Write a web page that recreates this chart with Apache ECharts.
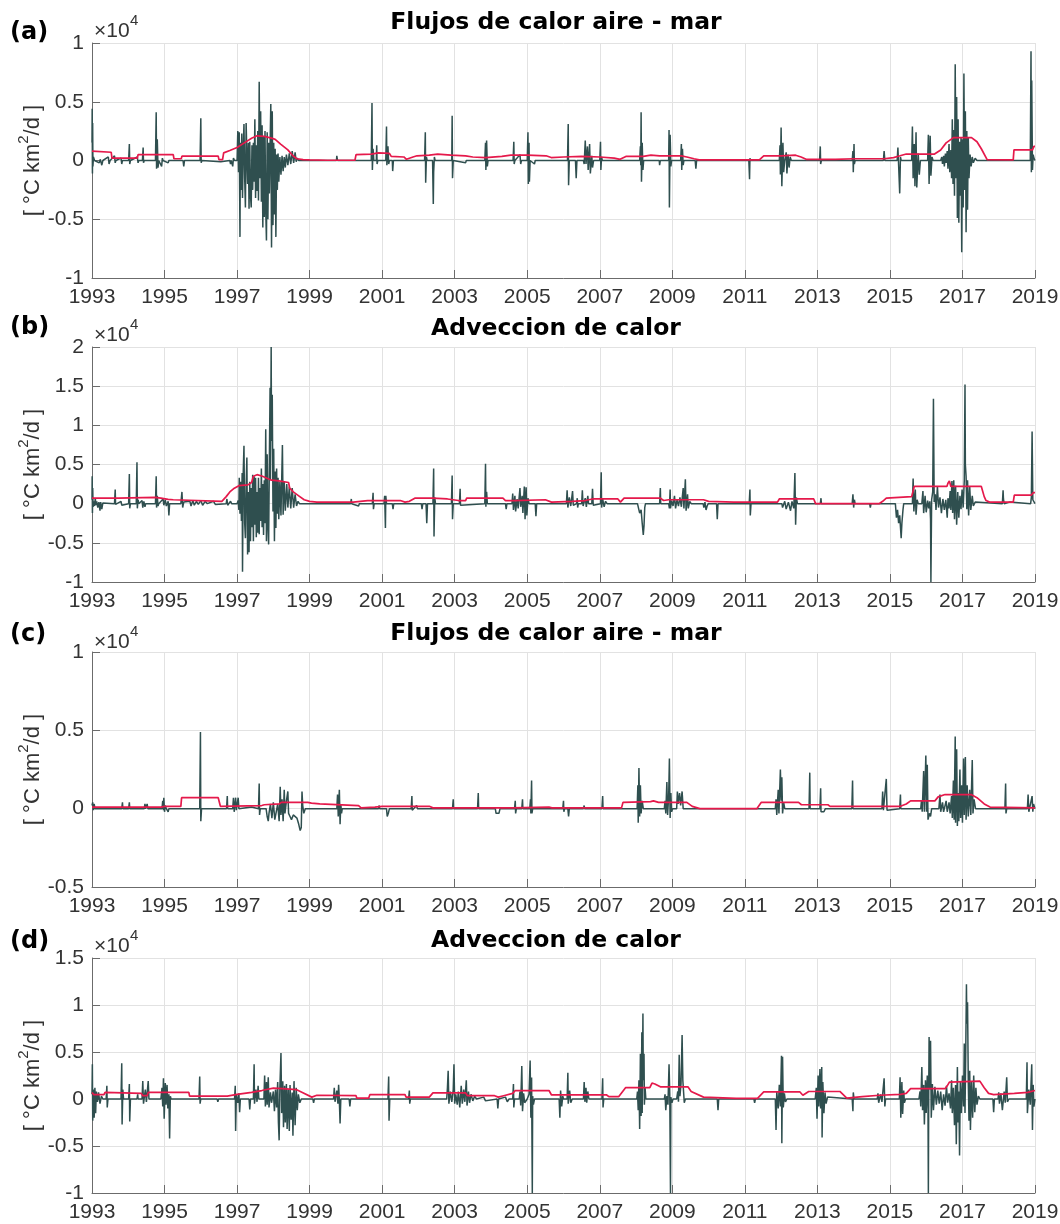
<!DOCTYPE html>
<html>
<head>
<meta charset="utf-8">
<script src="https://cdn.jsdelivr.net/npm/echarts@6/dist/echarts.min.js"></script>
<style>
  html, body { margin: 0; padding: 0; background: #ffffff; }
  #chart { width: 1060px; height: 1224px; }
</style>
</head>
<body>
<div id="chart"></div>
<script>
// ---- Panel texts and axis ranges (values in °C km²/d) ----
const panelTitles  = ['Flujos de calor aire - mar', 'Adveccion de calor', 'Flujos de calor aire - mar', 'Adveccion de calor'];
const panelLetters = ['(a)', '(b)', '(c)', '(d)'];
const yMinVals = [-10000, -10000, -5000, -10000];
const yMaxVals = [10000, 20000, 10000, 15000];
const yStep = 5000;
const yearMin = 1993, yearMax = 2019, yearStep = 2;
const yUnitName = '[ °C km{s|2}/d ]';
const exponentText = '×10';
const exponentPower = '4';

// ---- (a) air-sea heat flux: daily series [year, value] ----
const fluxA = [
  [1993.00,1500],[1993.005,4400],[1993.012,-1100],[1993.018,3200],[1993.025,-500],[1993.04,300],[1993.07,0],
  [1993.20,-200],[1993.23,100],[1993.27,-400],[1993.30,0],[1993.45,300],[1993.47,-300],[1993.50,0],
  [1993.62,400],[1993.64,-200],[1993.66,0],[1993.80,200],[1993.82,-300],[1993.84,0],
  [1994.01,0],[1994.03,1400],[1994.04,-300],[1994.06,0],[1994.25,300],[1994.27,-200],[1994.29,0],
  [1994.39,0],[1994.41,1100],[1994.42,-200],[1994.44,0],
  [1994.75,0],[1994.77,4100],[1994.78,-700],[1994.80,1800],[1994.82,-600],[1994.84,0],
  [1994.92,-500],[1994.94,200],[1994.96,0],[1995.10,-200],[1995.12,0],
  [1995.51,0],[1995.53,-500],[1995.55,0],[1995.98,0],[1996.00,3600],[1996.01,-200],[1996.03,0],
  [1996.55,-100],[1996.57,0],[1996.80,0],[1996.82,-300],[1996.84,0],[1996.88,-500],[1996.90,200],[1996.93,0],
  [1997.00,0],[1997.02,2500],[1997.04,-1000],[1997.06,2400],[1997.08,-6500],[1997.09,1500],[1997.11,-2500],
  [1997.13,2300],[1997.15,-3200],[1997.17,1000],[1997.19,3100],[1997.21,-1500],[1997.23,-4000],[1997.25,3200],
  [1997.27,500],[1997.29,-2000],[1997.31,1500],[1997.33,-4100],[1997.35,1600],[1997.37,-3000],[1997.39,-4000],
  [1997.41,1300],[1997.43,-2500],[1997.45,1500],[1997.47,-1800],[1997.49,3500],[1997.51,-3200],[1997.53,1300],
  [1997.55,-2600],[1997.57,2500],[1997.59,-3400],[1997.61,6700],[1997.63,-1500],[1997.65,4200],[1997.67,-3500],
  [1997.69,3000],[1997.71,-5700],[1997.73,2000],[1997.75,-4800],[1997.77,2500],[1997.79,-4200],[1997.81,-6800],
  [1997.83,2400],[1997.85,-5000],[1997.87,1500],[1997.89,-2800],[1997.91,1200],[1997.93,4800],[1997.95,-7400],
  [1997.97,4200],[1997.99,-5500],[1998.01,1500],[1998.03,-4600],[1998.05,1000],[1998.07,-6500],[1998.09,500],
  [1998.11,-2500],[1998.13,600],[1998.15,-1800],[1998.18,300],[1998.21,-1200],[1998.24,400],[1998.27,-900],
  [1998.30,300],[1998.33,-600],[1998.36,500],[1998.40,-400],[1998.44,600],[1998.48,-300],[1998.52,800],
  [1998.56,-200],[1998.60,700],[1998.63,-100],[1998.66,200],[1998.70,0],
  [1999.74,0],[1999.75,400],[1999.77,0],
  [2000.70,0],[2000.72,4900],[2000.73,-800],[2000.75,1000],[2000.77,0],[2000.84,0],[2000.85,1300],[2000.86,-300],[2000.88,0],
  [2001.10,0],[2001.12,2900],[2001.13,-400],[2001.16,1200],[2001.18,-300],[2001.20,0],[2001.28,0],[2001.29,-900],[2001.31,0],
  [2002.17,0],[2002.19,2400],[2002.20,-1900],[2002.22,300],[2002.24,0],
  [2002.39,0],[2002.41,-3700],[2002.42,-1000],[2002.44,300],[2002.46,0],
  [2002.92,0],[2002.93,3800],[2002.94,-1500],[2002.96,0],[2003.30,-200],[2003.32,0],
  [2003.83,0],[2003.85,1500],[2003.86,-800],[2003.88,1700],[2003.90,-500],[2003.92,0],
  [2004.61,0],[2004.63,1600],[2004.64,-300],[2004.66,0],[2004.80,500],[2004.82,-300],[2004.84,0],
  [2005.00,0],[2005.02,2400],[2005.03,-2000],[2005.05,1500],[2005.06,-1800],[2005.08,0],[2005.20,-300],[2005.22,0],
  [2006.11,0],[2006.13,3100],[2006.14,-2100],[2006.16,0],[2006.33,0],[2006.35,-1500],[2006.37,0],
  [2006.55,0],[2006.57,-300],[2006.60,1700],[2006.62,-300],[2006.66,1200],[2006.68,-800],[2006.72,1400],
  [2006.74,-1100],[2006.78,400],[2006.80,-600],[2006.83,0],
  [2007.00,0],[2007.02,1600],[2007.03,-800],[2007.05,300],[2007.07,0],
  [2008.10,0],[2008.12,1200],[2008.13,-400],[2008.14,4100],[2008.15,-1800],[2008.17,1500],[2008.19,-800],[2008.21,0],
  [2008.64,0],[2008.65,-400],[2008.67,0],
  [2008.90,0],[2008.91,2600],[2008.92,-4000],[2008.94,2200],[2008.96,-500],[2008.98,0],
  [2009.23,0],[2009.25,1400],[2009.26,-800],[2009.28,1000],[2009.30,-400],[2009.32,0],
  [2009.63,0],[2009.65,-700],[2009.67,0],
  [2011.11,0],[2011.13,-1600],[2011.14,200],[2011.16,0],
  [2011.95,0],[2011.97,1300],[2011.98,-1200],[2012.00,2800],[2012.02,-2200],[2012.05,1500],[2012.07,-1000],[2012.10,0],
  [2012.14,700],[2012.16,-1100],[2012.19,500],[2012.22,-600],[2012.25,300],[2012.28,0],
  [2013.06,0],[2013.08,1200],[2013.09,-300],[2013.11,0],
  [2013.96,0],[2013.98,800],[2013.99,-1000],[2014.01,1400],[2014.02,-300],[2014.04,0],
  [2014.82,0],[2014.84,800],[2014.86,0],
  [2015.20,0],[2015.22,1100],[2015.24,-400],[2015.27,-2800],[2015.29,300],[2015.31,0],
  [2015.60,0],[2015.62,2900],[2015.64,-1500],[2015.67,1400],[2015.69,-2200],[2015.72,2400],[2015.74,-2300],
  [2015.78,600],[2015.81,-1200],[2015.84,0],
  [2016.04,0],[2016.06,2200],[2016.08,-2000],[2016.11,2100],[2016.13,-1300],[2016.16,300],[2016.19,0],
  [2016.40,0],[2016.43,300],[2016.45,-300],[2016.48,400],[2016.50,-500],[2016.53,600],[2016.55,-200],
  [2016.58,800],[2016.60,-700],[2016.63,1400],[2016.65,-1000],[2016.68,900],[2016.70,-1500],[2016.72,3500],
  [2016.74,-2000],[2016.76,2600],[2016.78,-3000],[2016.80,8200],[2016.82,-1500],[2016.84,5400],[2016.86,-4900],
  [2016.88,3500],[2016.90,-5300],[2016.92,1600],[2016.94,-3000],[2016.96,2000],[2016.98,-7800],[2017.00,1800],
  [2017.02,-4000],[2017.04,7400],[2017.06,-2500],[2017.08,4200],[2017.10,-6100],[2017.12,2500],[2017.14,-4200],
  [2017.16,2000],[2017.18,-1500],[2017.21,500],[2017.24,-500],[2017.27,300],[2017.30,-200],[2017.35,200],[2017.40,0],
  [2018.87,0],[2018.89,9300],[2018.90,-1000],[2018.91,6800],[2018.93,-800],[2018.95,500],[2018.97,200],[2019.00,0]
];
const fluxAEnv = [
  [1993.00,800],[1993.53,700],[1993.55,200],[1994.25,200],[1994.27,500],[1995.24,500],[1995.26,150],
  [1995.46,150],[1995.48,370],[1996.48,370],[1996.50,80],[1996.60,80],[1996.63,650],[1996.80,850],
  [1997.00,1100],[1997.20,1500],[1997.40,1900],[1997.55,2100],[1997.75,2050],[1997.95,1900],[1998.05,1800],
  [1998.20,1400],[1998.40,900],[1998.54,400],[1998.65,150],[1998.82,80],[1999.00,50],[1999.50,20],
  [2000.25,20],[2000.28,500],[2000.70,550],[2000.90,650],[2001.20,600],[2001.25,350],[2001.60,300],
  [2001.67,100],[2001.85,300],[2001.96,400],[2002.30,450],[2002.53,550],[2002.90,450],[2003.30,400],
  [2003.50,300],[2003.85,250],[2004.30,350],[2004.55,450],[2005.00,450],[2005.52,400],[2005.66,250],
  [2006.00,300],[2006.50,350],[2007.00,300],[2007.40,200],[2007.56,100],[2007.72,350],[2008.20,350],
  [2008.41,450],[2008.65,400],[2009.25,400],[2009.40,300],[2009.60,150],[2009.74,50],[2011.40,50],
  [2011.52,400],[2012.00,400],[2012.40,450],[2012.55,300],[2012.69,100],[2013.50,100],[2014.00,150],
  [2014.84,150],[2015.10,250],[2015.28,400],[2015.45,550],[2016.23,550],[2016.40,900],[2016.55,1500],
  [2016.75,1950],[2017.25,1950],[2017.40,1600],[2017.52,1000],[2017.68,80],[2018.40,50],[2018.42,900],
  [2018.93,900],[2018.97,1200],[2019.00,1200]
];

// ---- (b) heat advection ----
const advB = [
  [1993.00,500],[1993.005,3500],[1993.012,-1200],[1993.02,2000],[1993.03,-400],[1993.05,300],[1993.07,-300],
  [1993.09,700],[1993.11,-200],[1993.13,300],[1993.16,-500],[1993.19,200],[1993.22,-900],[1993.24,200],
  [1993.27,-700],[1993.30,100],[1993.35,0],
  [1993.62,0],[1993.64,1800],[1993.65,-100],[1993.67,0],[1993.80,300],[1993.82,-200],[1993.84,0],
  [1994.01,0],[1994.03,3800],[1994.04,-600],[1994.06,0],
  [1994.22,0],[1994.24,5300],[1994.25,-600],[1994.27,500],[1994.29,0],
  [1994.38,400],[1994.40,-500],[1994.43,300],[1994.46,-400],[1994.48,0],
  [1994.75,0],[1994.77,3500],[1994.78,-500],[1994.80,1000],[1994.82,-300],[1994.84,0],
  [1994.96,600],[1994.98,-200],[1995.02,500],[1995.05,-300],[1995.10,300],[1995.12,-1500],[1995.14,0],
  [1995.45,0],[1995.48,1500],[1995.50,-500],[1995.53,200],[1995.56,0],
  [1995.70,300],[1995.73,-300],[1995.78,400],[1995.82,-200],[1995.88,300],[1995.93,-100],[1996.00,400],
  [1996.05,-200],[1996.12,300],[1996.18,0],[1996.35,300],[1996.40,-100],[1996.45,0],
  [1996.70,0],[1996.72,600],[1996.74,-200],[1996.82,300],[1996.85,0],
  [1997.00,0],[1997.03,400],[1997.05,-800],[1997.06,3300],[1997.08,-1300],[1997.10,2800],[1997.12,-2200],
  [1997.14,3900],[1997.15,-8700],[1997.17,4000],[1997.19,7400],[1997.21,-2500],[1997.23,-4400],[1997.25,2300],
  [1997.27,5900],[1997.29,-6500],[1997.31,1500],[1997.33,-6200],[1997.35,2800],[1997.37,-4800],[1997.39,2000],
  [1997.41,-3000],[1997.43,3700],[1997.45,-4800],[1997.47,3500],[1997.49,-2700],[1997.51,3300],[1997.53,-4300],
  [1997.55,1500],[1997.57,-3700],[1997.59,3300],[1997.61,-3900],[1997.63,2000],[1997.65,-2200],[1997.67,4500],
  [1997.69,-3000],[1997.71,2500],[1997.73,-4000],[1997.75,3000],[1997.77,-2500],[1997.79,9500],[1997.81,-4800],
  [1997.83,6300],[1997.85,-2800],[1997.87,-5200],[1997.89,5400],[1997.91,14800],[1997.92,3000],[1997.94,20000],
  [1997.95,8000],[1997.97,13900],[1997.99,-1000],[1998.01,7000],[1998.03,-4800],[1998.05,4100],[1998.07,-3100],
  [1998.09,4500],[1998.11,-1300],[1998.13,3300],[1998.15,-2000],[1998.18,2800],[1998.21,-1500],[1998.25,7500],
  [1998.27,-1400],[1998.30,2900],[1998.33,-900],[1998.37,2500],[1998.40,-500],[1998.44,2200],[1998.48,-600],
  [1998.52,2000],[1998.56,-500],[1998.60,1200],[1998.64,-300],[1998.68,300],[1998.72,0],
  [2000.13,0],[2000.15,600],[2000.16,0],[2000.35,-300],[2000.37,0],
  [2000.73,0],[2000.75,1400],[2000.76,-700],[2000.78,0],
  [2001.05,0],[2001.07,1000],[2001.09,-3100],[2001.10,1000],[2001.12,0],[2001.28,0],[2001.30,-700],[2001.32,0],
  [2002.08,0],[2002.10,-700],[2002.12,0],[2002.21,0],[2002.23,-2500],[2002.25,0],
  [2002.40,0],[2002.42,4500],[2002.43,-4200],[2002.45,800],[2002.47,0],
  [2002.91,0],[2002.93,3600],[2002.94,-2000],[2002.96,0],[2003.13,0],[2003.15,1900],[2003.16,-200],[2003.18,0],
  [2003.83,0],[2003.85,5100],[2003.86,-400],[2003.88,1500],[2003.90,0],[2004.40,0],[2004.42,-700],[2004.44,0],
  [2004.58,0],[2004.60,1300],[2004.62,-800],[2004.66,1000],[2004.68,-1000],[2004.72,600],[2004.75,-600],
  [2004.80,2000],[2004.82,-400],[2004.86,1000],[2004.88,-1200],[2004.92,2200],[2004.94,-2000],[2004.97,2100],
  [2004.99,-1500],[2005.02,700],[2005.05,0],[2005.22,0],[2005.24,-1600],[2005.26,0],
  [2006.08,0],[2006.10,1700],[2006.12,-500],[2006.16,800],[2006.20,-300],[2006.25,1600],[2006.27,-200],[2006.30,0],
  [2006.36,0],[2006.38,700],[2006.39,-500],[2006.41,0],
  [2006.50,0],[2006.52,1700],[2006.54,-300],[2006.60,700],[2006.63,-400],[2006.67,1000],[2006.69,0],
  [2006.78,0],[2006.80,1900],[2006.82,-200],[2006.84,0],
  [2007.02,0],[2007.04,4000],[2007.05,-500],[2007.08,600],[2007.12,-400],[2007.16,300],[2007.20,0],
  [2008.04,0],[2008.06,-400],[2008.10,-1200],[2008.14,-800],[2008.17,-2500],[2008.20,-4000],[2008.22,-2800],
  [2008.24,-500],[2008.26,0],[2008.65,0],[2008.67,2000],[2008.68,0],
  [2008.90,0],[2008.92,-600],[2008.94,1800],[2008.95,-600],[2008.98,400],[2009.02,-300],[2009.06,1000],
  [2009.09,-600],[2009.13,500],[2009.17,-300],[2009.21,800],[2009.25,-400],[2009.30,2000],[2009.32,-600],
  [2009.36,3100],[2009.38,-900],[2009.42,1200],[2009.44,-600],[2009.48,300],[2009.52,0],
  [2009.85,0],[2009.87,-500],[2009.90,200],[2009.93,-800],[2009.96,-300],[2009.99,0],
  [2010.22,0],[2010.24,-2000],[2010.26,0],[2011.12,0],[2011.14,1800],[2011.15,-1500],[2011.17,0],
  [2012.02,0],[2012.04,-500],[2012.10,300],[2012.14,-700],[2012.20,200],[2012.26,-900],[2012.30,300],
  [2012.35,-600],[2012.38,3900],[2012.40,-2700],[2012.42,800],[2012.45,0],
  [2013.08,0],[2013.10,700],[2013.11,0],[2013.96,0],[2013.98,1200],[2014.00,-500],[2014.02,500],[2014.04,0],
  [2014.44,0],[2014.46,-500],[2014.48,0],
  [2015.15,0],[2015.18,-1800],[2015.21,-800],[2015.24,-2500],[2015.27,-1500],[2015.31,-4400],[2015.33,-2500],
  [2015.36,-800],[2015.38,0],
  [2015.62,0],[2015.64,3200],[2015.66,-1000],[2015.70,1800],[2015.72,-1400],[2015.75,500],[2015.78,0],
  [2015.88,0],[2015.91,1600],[2015.93,-1200],[2015.97,1000],[2016.00,-1100],[2016.04,400],[2016.07,-600],
  [2016.10,300],[2016.12,-2000],[2016.13,-10000],[2016.15,500],[2016.18,1500],[2016.20,13400],[2016.22,200],
  [2016.25,1200],[2016.27,-800],[2016.31,2200],[2016.34,-500],[2016.38,800],[2016.42,-1200],[2016.46,600],
  [2016.50,-800],[2016.54,500],[2016.58,-1800],[2016.60,700],[2016.63,-600],[2016.66,1600],[2016.68,-800],
  [2016.71,2900],[2016.73,-1200],[2016.76,3000],[2016.78,-2000],[2016.81,2300],[2016.84,-2700],[2016.87,1500],
  [2016.90,-1800],[2016.93,1000],[2016.96,-700],[2016.99,1800],[2017.02,-500],[2017.05,3000],[2017.07,15200],
  [2017.08,5000],[2017.10,3500],[2017.12,-700],[2017.14,3000],[2017.17,-1500],[2017.20,2200],[2017.23,-800],
  [2017.27,1000],[2017.30,-300],[2017.35,200],[2017.40,0],
  [2018.10,0],[2018.12,1700],[2018.13,600],[2018.15,0],[2018.30,200],[2018.32,0],
  [2018.88,0],[2018.90,800],[2018.92,9200],[2018.94,500],[2018.97,300],[2019.00,0]
];
const advBEnv = [
  [1993.00,700],[1993.72,700],[1993.74,800],[1994.74,800],[1994.90,700],[1995.10,550],[1995.24,500],
  [1995.26,300],[1996.58,300],[1996.62,450],[1996.70,900],[1996.80,1500],[1996.90,1900],[1997.05,2300],
  [1997.30,2400],[1997.40,2700],[1997.45,3500],[1997.55,3700],[1997.70,3500],[1997.95,3000],[1998.15,2900],
  [1998.42,2700],[1998.45,2000],[1998.55,1500],[1998.70,1000],[1998.85,500],[1999.00,300],[1999.20,200],
  [2000.20,200],[2000.40,300],[2000.60,400],[2001.50,400],[2001.63,200],[2001.75,300],[2001.90,700],
  [2002.40,700],[2002.80,600],[2003.10,400],[2003.30,400],[2003.33,700],[2004.33,700],[2004.40,400],
  [2004.65,400],[2004.70,500],[2005.50,500],[2005.67,200],[2006.24,300],[2006.60,400],[2006.80,600],
  [2007.50,600],[2007.57,200],[2007.62,200],[2007.67,700],[2008.67,700],[2008.76,400],[2008.90,500],
  [2009.86,500],[2010.00,300],[2010.70,200],[2011.90,200],[2011.95,600],[2012.90,600],[2012.95,0],
  [2014.70,0],[2014.80,300],[2014.90,700],[2015.60,900],[2015.65,900],[2015.67,2200],[2016.57,2200],
  [2016.60,2600],[2016.64,2900],[2016.68,2200],[2017.52,2200],[2017.60,900],[2017.65,400],[2017.75,200],
  [2018.40,200],[2018.43,1100],[2018.90,1100],[2018.95,1400],[2019.00,1400]
];

// ---- (c) air-sea heat flux ----
const fluxC = [
  [1993.00,200],[1993.02,400],[1993.04,-100],[1993.06,300],[1993.08,0],
  [1993.82,0],[1993.84,400],[1993.85,0],[1994.01,0],[1994.03,400],[1994.04,0],
  [1994.44,0],[1994.46,300],[1994.48,0],[1994.52,300],[1994.54,0],
  [1994.93,0],[1994.95,500],[1994.97,-100],[1994.98,700],[1995.00,-200],[1995.02,200],[1995.05,0],
  [1995.10,-200],[1995.12,0],[1995.97,0],[1995.99,4900],[1996.00,-800],[1996.02,0],
  [1996.71,0],[1996.73,800],[1996.74,0],
  [1996.88,0],[1996.90,700],[1996.92,-200],[1996.96,700],[1996.98,-100],[1997.03,700],[1997.05,0],
  [1997.40,100],[1997.42,0],[1997.59,0],[1997.61,1600],[1997.62,-400],[1997.64,0],
  [1997.80,0],[1997.83,-500],[1997.86,-800],[1997.88,-300],[1997.92,300],[1997.96,-600],[1998.00,400],
  [1998.04,-700],[1998.08,-200],[1998.12,300],[1998.16,-800],[1998.19,1400],[1998.21,-400],[1998.24,600],
  [1998.27,-800],[1998.30,1200],[1998.32,-300],[1998.36,500],[1998.40,1100],[1998.42,-300],[1998.46,-500],
  [1998.50,-700],[1998.55,-400],[1998.60,-300],[1998.65,-600],[1998.70,-1000],[1998.74,-1400],[1998.77,-1200],
  [1998.79,1100],[1998.81,200],[1998.84,-300],[1998.88,0],
  [1999.75,0],[1999.77,900],[1999.79,-500],[1999.82,1200],[1999.84,-1000],[1999.86,300],[1999.88,-300],[1999.90,0],
  [2000.90,0],[2000.92,200],[2000.93,0],[2001.12,0],[2001.14,-500],[2001.17,-300],[2001.20,0],
  [2001.80,0],[2001.82,800],[2001.83,-100],[2001.85,0],[2001.95,200],[2001.97,0],
  [2002.94,0],[2002.96,600],[2002.97,0],[2003.63,0],[2003.65,1000],[2003.66,0],
  [2004.12,0],[2004.14,-300],[2004.18,-200],[2004.22,-300],[2004.25,0],
  [2004.65,0],[2004.67,500],[2004.68,-300],[2004.70,0],[2004.85,0],[2004.87,600],[2004.88,0],
  [2005.07,0],[2005.09,600],[2005.10,-300],[2005.12,1800],[2005.13,-300],[2005.15,0],
  [2005.98,0],[2006.00,500],[2006.01,-200],[2006.03,0],[2006.12,0],[2006.14,-500],[2006.16,0],
  [2006.55,0],[2006.57,200],[2006.58,0],[2007.06,0],[2007.08,800],[2007.09,0],
  [2008.03,0],[2008.05,1500],[2008.06,-900],[2008.08,2600],[2008.10,-500],[2008.12,1500],[2008.14,-300],
  [2008.17,500],[2008.20,0],
  [2008.78,0],[2008.80,500],[2008.82,-300],[2008.85,1700],[2008.87,-400],[2008.90,800],[2008.92,3200],
  [2008.94,-600],[2008.96,1000],[2008.98,-200],[2009.01,0],
  [2009.12,0],[2009.14,1100],[2009.16,300],[2009.20,1000],[2009.23,200],[2009.27,1100],[2009.30,0],
  [2011.84,0],[2011.86,600],[2011.88,-400],[2011.92,1200],[2011.94,-300],[2011.98,2500],[2012.00,500],
  [2012.02,2000],[2012.04,-300],[2012.07,400],[2012.10,0],
  [2012.77,0],[2012.79,2300],[2012.80,0],
  [2013.07,0],[2013.09,1300],[2013.10,-200],[2013.14,-300],[2013.18,-200],[2013.22,0],
  [2013.95,0],[2013.97,1800],[2013.98,0],
  [2014.78,0],[2014.80,1100],[2014.82,-100],[2014.90,1900],[2014.92,-100],[2014.95,0],
  [2015.27,0],[2015.29,900],[2015.30,0],
  [2015.85,0],[2015.87,500],[2015.89,-200],[2015.93,2400],[2015.95,-200],[2015.99,3400],[2016.01,-200],
  [2016.03,2800],[2016.05,-700],[2016.09,-300],[2016.12,-500],[2016.15,0],
  [2016.35,0],[2016.38,900],[2016.40,-200],[2016.45,400],[2016.48,-200],[2016.55,500],[2016.58,-200],
  [2016.63,400],[2016.66,-300],[2016.70,800],[2016.72,-600],[2016.75,1800],[2016.77,-700],[2016.80,4600],
  [2016.81,-900],[2016.84,3800],[2016.86,-1100],[2016.88,1000],[2016.90,-800],[2016.93,2500],[2016.95,-600],
  [2016.98,1500],[2017.00,-900],[2017.03,3200],[2017.05,-400],[2017.08,3300],[2017.10,-700],[2017.13,1500],
  [2017.16,-500],[2017.20,1200],[2017.23,-400],[2017.27,3100],[2017.29,-300],[2017.32,600],[2017.36,0],
  [2018.17,0],[2018.19,1600],[2018.20,-300],[2018.22,0],
  [2018.79,0],[2018.81,900],[2018.83,-200],[2018.92,800],[2018.94,-200],[2018.96,300],[2019.00,0]
];
const fluxCEnv = [
  [1993.00,100],[1994.90,100],[1995.00,150],[1995.45,150],[1995.47,700],[1996.48,700],[1996.54,150],
  [1997.68,200],[1997.75,250],[1998.16,300],[1998.22,400],[1998.95,400],[1999.05,350],[1999.28,300],
  [1999.32,200],[2000.35,200],[2000.42,50],[2000.80,100],[2001.00,150],[2002.30,150],[2002.40,50],
  [2004.60,50],[2004.65,150],[2005.60,100],[2005.68,50],[2007.60,50],[2007.64,400],[2008.40,450],
  [2008.48,500],[2008.62,400],[2009.40,400],[2009.55,150],[2009.76,0],[2011.33,0],[2011.45,400],
  [2012.48,400],[2012.56,250],[2013.29,250],[2013.35,150],[2015.29,150],[2015.45,300],[2015.57,500],
  [2016.24,500],[2016.33,750],[2016.52,900],[2017.24,900],[2017.40,700],[2017.60,300],[2017.76,100],
  [2019.00,50]
];

// ---- (d) heat advection ----
const advD = [
  [1993.00,500],[1993.01,3700],[1993.02,-2300],[1993.04,1000],[1993.06,-2000],[1993.08,1200],[1993.10,-1500],
  [1993.12,800],[1993.15,-300],[1993.18,700],[1993.22,-500],[1993.26,300],[1993.30,0],
  [1993.39,0],[1993.41,1400],[1993.42,-900],[1993.44,0],
  [1993.80,0],[1993.82,3800],[1993.83,-2700],[1993.85,1000],[1993.87,0],
  [1994.01,0],[1994.03,1600],[1994.04,-2400],[1994.06,0],[1994.24,0],[1994.26,500],[1994.27,0],
  [1994.38,0],[1994.40,1900],[1994.42,-500],[1994.47,1000],[1994.50,-300],[1994.55,1900],[1994.57,0],
  [1994.90,0],[1994.93,1200],[1994.95,-800],[1994.97,2200],[1994.99,-2100],[1995.02,1700],[1995.04,-600],
  [1995.07,1500],[1995.09,-1000],[1995.12,500],[1995.14,-4200],[1995.16,300],[1995.18,0],
  [1995.95,0],[1995.97,2400],[1995.98,-500],[1996.00,0],[1996.45,0],[1996.47,-300],[1996.49,0],
  [1996.93,0],[1996.95,1400],[1996.96,-3400],[1996.98,500],[1997.02,-400],[1997.05,600],[1997.07,-1400],[1997.09,0],
  [1997.33,0],[1997.35,-1100],[1997.37,0],
  [1997.45,0],[1997.47,3700],[1997.48,-500],[1997.52,1000],[1997.55,-300],[1997.58,1400],[1997.60,0],
  [1997.74,0],[1997.76,2500],[1997.78,-800],[1997.81,1800],[1997.83,-600],[1997.86,2300],[1997.88,-900],
  [1997.92,700],[1997.95,-400],[1998.00,800],[1998.03,-1300],[1998.06,1000],[1998.09,-900],[1998.12,1800],
  [1998.14,-2500],[1998.16,-4400],[1998.18,1200],[1998.21,4900],[1998.23,-1500],[1998.26,1900],[1998.28,-3000],
  [1998.31,1400],[1998.33,-2500],[1998.36,1600],[1998.38,-3200],[1998.41,1000],[1998.44,-3400],[1998.46,1500],
  [1998.49,-2200],[1998.52,700],[1998.54,-3900],[1998.57,1900],[1998.60,-2800],[1998.63,1200],[1998.66,-1200],
  [1998.69,500],[1998.73,-400],[1998.77,0],
  [1999.09,0],[1999.11,-400],[1999.13,0],
  [1999.66,0],[1999.68,1200],[1999.70,-300],[1999.75,900],[1999.78,-500],[1999.80,1500],[1999.82,-200],
  [1999.84,-2600],[1999.86,0],[2000.09,0],[2000.11,-800],[2000.13,0],
  [2001.16,0],[2001.18,2400],[2001.19,-2300],[2001.21,0],[2001.73,0],[2001.75,900],[2001.76,-500],[2001.78,0],
  [2002.30,0],[2002.32,-200],[2002.34,0],
  [2002.78,0],[2002.80,1200],[2002.82,3000],[2002.84,-500],[2002.88,800],[2002.92,-300],[2002.96,1000],
  [2002.98,3700],[2003.00,-500],[2003.03,500],[2003.07,-600],[2003.10,800],[2003.14,-900],[2003.18,1400],
  [2003.21,-500],[2003.25,1000],[2003.28,-300],[2003.32,2000],[2003.34,-700],[2003.38,800],[2003.41,-400],
  [2003.45,500],[2003.50,-200],[2003.55,300],[2003.60,0],[2003.80,200],[2003.85,-200],[2003.90,0],
  [2004.17,0],[2004.19,-1000],[2004.21,0],[2004.40,200],[2004.45,-300],[2004.50,0],
  [2004.60,0],[2004.62,1600],[2004.63,-900],[2004.65,0],
  [2004.78,0],[2004.80,800],[2004.82,-700],[2004.85,3500],[2004.87,-1300],[2004.90,600],[2004.93,-400],
  [2005.00,0],[2005.05,500],[2005.08,4100],[2005.10,-2000],[2005.12,2300],[2005.14,-10000],[2005.15,300],
  [2005.17,-600],[2005.20,0],
  [2005.88,0],[2005.90,-2000],[2005.92,900],[2005.95,-800],[2005.98,300],[2006.00,0],
  [2006.10,0],[2006.12,2800],[2006.13,-500],[2006.17,900],[2006.20,-400],[2006.24,0],
  [2006.55,0],[2006.57,1800],[2006.59,-300],[2006.62,1200],[2006.64,-400],[2006.67,800],[2006.70,0],
  [2007.06,0],[2007.08,2200],[2007.09,-900],[2007.11,0],
  [2008.02,0],[2008.04,800],[2008.06,-1200],[2008.08,2000],[2008.10,-3200],[2008.12,4800],[2008.14,-1800],
  [2008.16,7100],[2008.17,-1500],[2008.19,9100],[2008.20,2000],[2008.22,4800],[2008.23,-600],[2008.25,1200],[2008.27,0],
  [2008.78,0],[2008.80,500],[2008.82,-1200],[2008.85,300],[2008.88,-600],[2008.91,3700],[2008.93,500],
  [2008.95,-10000],[2008.96,200],[2008.99,-400],[2009.02,0],
  [2009.12,0],[2009.15,800],[2009.17,-300],[2009.19,4700],[2009.21,300],[2009.24,1600],[2009.27,6800],
  [2009.29,2000],[2009.31,800],[2009.33,-400],[2009.36,0],
  [2010.24,0],[2010.26,-1200],[2010.28,0],[2011.25,0],[2011.27,-400],[2011.29,0],
  [2011.84,0],[2011.86,-3300],[2011.88,800],[2011.92,-1000],[2011.95,1500],[2011.98,-800],[2012.01,4600],
  [2012.02,-4700],[2012.04,4500],[2012.06,-900],[2012.09,600],[2012.12,-300],[2012.16,0],
  [2012.94,0],[2012.97,1200],[2012.99,-2100],[2013.02,2500],[2013.04,-800],[2013.07,3200],[2013.09,-1000],
  [2013.12,3400],[2013.13,-4100],[2013.15,1800],[2013.18,-1500],[2013.21,700],[2013.24,-500],[2013.28,200],[2013.32,0],
  [2013.96,0],[2013.98,-1300],[2013.99,700],[2014.01,0],
  [2014.65,0],[2014.67,600],[2014.69,-400],[2014.74,500],[2014.78,-300],[2014.84,2200],[2014.86,-800],[2014.88,0],
  [2015.26,0],[2015.28,2300],[2015.30,-2000],[2015.33,1800],[2015.35,-1600],[2015.38,900],[2015.40,-400],[2015.43,0],
  [2015.80,0],[2015.83,800],[2015.85,-800],[2015.88,3400],[2015.90,-1200],[2015.93,1500],[2015.95,-2700],
  [2015.98,2000],[2016.00,-1500],[2016.03,2500],[2016.05,-1000],[2016.06,-10000],[2016.07,800],[2016.08,6600],
  [2016.10,1000],[2016.12,6200],[2016.14,-2000],[2016.17,1600],[2016.20,-1200],[2016.24,1300],[2016.28,-600],
  [2016.32,900],[2016.36,-500],[2016.40,800],[2016.44,-1200],[2016.48,500],[2016.52,-700],[2016.56,1400],
  [2016.59,-400],[2016.63,600],[2016.67,-1000],[2016.70,2000],[2016.72,-1500],[2016.75,1200],[2016.78,-2800],
  [2016.81,1500],[2016.83,-4800],[2016.86,3400],[2016.88,-2500],[2016.90,800],[2016.92,-6000],[2016.94,1800],
  [2016.97,-1500],[2017.00,2500],[2017.03,-800],[2017.05,5900],[2017.07,-1500],[2017.09,4800],[2017.11,12200],
  [2017.12,8000],[2017.14,10300],[2017.16,2000],[2017.18,-2300],[2017.20,3000],[2017.22,-3300],[2017.25,1800],
  [2017.28,-2000],[2017.31,2500],[2017.34,-1400],[2017.37,1200],[2017.40,-600],[2017.44,300],[2017.48,0],
  [2017.84,0],[2017.86,-1400],[2017.88,0],
  [2017.98,0],[2018.00,700],[2018.02,-500],[2018.06,600],[2018.10,-1200],[2018.15,800],[2018.18,-400],
  [2018.22,2300],[2018.24,-300],[2018.28,0],
  [2018.76,0],[2018.78,3900],[2018.79,-1500],[2018.83,1000],[2018.87,-600],[2018.91,3700],[2018.93,-3300],
  [2018.95,1500],[2018.97,-800],[2019.00,0]
];
const advDEnv = [
  [1993.00,700],[1993.05,460],[1993.33,460],[1993.36,700],[1994.36,600],[1994.40,350],[1994.52,350],
  [1994.55,700],[1995.67,700],[1995.69,300],[1996.73,300],[1997.00,500],[1997.40,700],[1997.68,900],
  [1998.00,1150],[1998.25,1100],[1998.63,1000],[1998.80,700],[1999.06,200],[1999.20,400],[2000.28,350],
  [2000.30,100],[2000.63,100],[2000.66,460],[2001.63,460],[2001.66,200],[2002.30,200],[2002.40,650],
  [2003.30,650],[2003.35,350],[2004.10,350],[2004.20,200],[2004.35,350],[2004.60,600],[2004.67,900],
  [2005.60,900],[2005.67,430],[2007.19,430],[2007.25,250],[2007.52,250],[2007.71,1200],[2008.38,1200],
  [2008.44,1700],[2008.52,1600],[2008.67,1300],[2009.43,1300],[2009.52,800],[2009.86,200],[2010.76,70],
  [2011.35,70],[2011.52,750],[2012.52,750],[2012.60,400],[2012.76,800],[2013.62,800],[2013.81,100],
  [2014.24,250],[2014.71,400],[2015.29,500],[2015.45,600],[2015.57,1100],[2016.52,1100],[2016.58,1400],
  [2016.64,1800],[2017.48,1900],[2017.60,1200],[2017.72,600],[2017.86,460],[2018.43,600],[2018.80,700],
  [2019.00,900]
];

const dailySeries = [fluxA, advB, fluxC, advD];
const envSeries   = [fluxAEnv, advBEnv, fluxCEnv, advDEnv];

// ---- layout (pixels) ----
const gridTops   = [43, 347, 652, 958];
const gridHeight = 235;
const gridLeft   = 92, gridRight = 25;
const letterY    = [33, 328, 635, 942];
const titleY     = [23, 329, 634, 941];
const expY       = [31, 335, 642, 946];
const titleX     = 556;

const tickFont = 'Liberation Sans';
const tickColor = '#333333';
const axisColor = '#6b6b6b';
const gridColor = '#e2e2e2';
const darkColor = '#2F4F4F';
const redColor  = '#E5194B';

const chart = echarts.init(document.getElementById('chart'), null, { renderer: 'canvas' });

const grids = [], xAxes = [], yAxes = [], series = [], graphics = [];
for (let i = 0; i < 4; i++) {
  grids.push({ left: gridLeft, right: gridRight, top: gridTops[i], height: gridHeight, outerBoundsMode: 'none', containLabel: false });
  xAxes.push({
    type: 'value', gridIndex: i, min: yearMin, max: yearMax, interval: yearStep,
    axisLine: { show: true, onZero: false, lineStyle: { color: axisColor, width: 1 } },
    axisTick: { show: true, inside: true, length: 8, lineStyle: { color: axisColor } },
    axisLabel: { margin: 9, fontSize: 21, fontFamily: tickFont, color: tickColor, formatter: v => String(v) },
    splitLine: { show: true, lineStyle: { color: gridColor, width: 1 } }
  });
  yAxes.push({
    type: 'value', gridIndex: i, min: yMinVals[i], max: yMaxVals[i], interval: yStep,
    name: yUnitName, nameLocation: 'middle', nameRotate: 90, nameGap: 42, nameMoveOverlap: false,
    nameTextStyle: {
      fontSize: 22, fontFamily: tickFont, color: tickColor, lineHeight: 34,
      rich: { s: { fontSize: 15, fontFamily: tickFont, color: tickColor, verticalAlign: 'top', lineHeight: 15 } }
    },
    axisLine: { show: true, onZero: false, lineStyle: { color: axisColor, width: 1 } },
    axisTick: { show: true, inside: true, length: 8, lineStyle: { color: axisColor } },
    axisLabel: { margin: 8, fontSize: 21, fontFamily: tickFont, color: tickColor, formatter: v => String(v / 10000) },
    splitLine: { show: true, lineStyle: { color: gridColor, width: 1 } }
  });
  series.push({
    type: 'line', xAxisIndex: i, yAxisIndex: i, data: dailySeries[i],
    showSymbol: false, symbol: 'none', clip: true, z: 2,
    lineStyle: { color: darkColor, width: 1.5 }
  });
  series.push({
    type: 'line', xAxisIndex: i, yAxisIndex: i, data: envSeries[i],
    showSymbol: false, symbol: 'none', clip: true, z: 3,
    lineStyle: { color: redColor, width: 1.7 }
  });
  graphics.push({
    type: 'text', x: 10, y: letterY[i],
    style: { text: panelLetters[i], font: 'bold 24px "DejaVu Sans"', fill: '#000',
             textAlign: 'left', textVerticalAlign: 'middle', align: 'left', verticalAlign: 'middle' }
  });
  graphics.push({
    type: 'text', x: titleX, y: titleY[i],
    style: { text: panelTitles[i], font: 'bold 23.5px "DejaVu Sans"', fill: '#000',
             textAlign: 'center', textVerticalAlign: 'middle', align: 'center', verticalAlign: 'middle' }
  });
  graphics.push({
    type: 'text', x: 94, y: expY[i],
    style: { text: exponentText, font: '21px "Liberation Sans"', fill: tickColor,
             textAlign: 'left', textVerticalAlign: 'middle', align: 'left', verticalAlign: 'middle' }
  });
  graphics.push({
    type: 'text', x: 130, y: expY[i] - 10,
    style: { text: exponentPower, font: '15px "Liberation Sans"', fill: tickColor,
             textAlign: 'left', textVerticalAlign: 'middle', align: 'left', verticalAlign: 'middle' }
  });
}

chart.setOption({
  animation: false,
  backgroundColor: '#ffffff',
  grid: grids,
  xAxis: xAxes,
  yAxis: yAxes,
  series: series,
  graphic: { elements: graphics }
});
</script>
</body>
</html>
